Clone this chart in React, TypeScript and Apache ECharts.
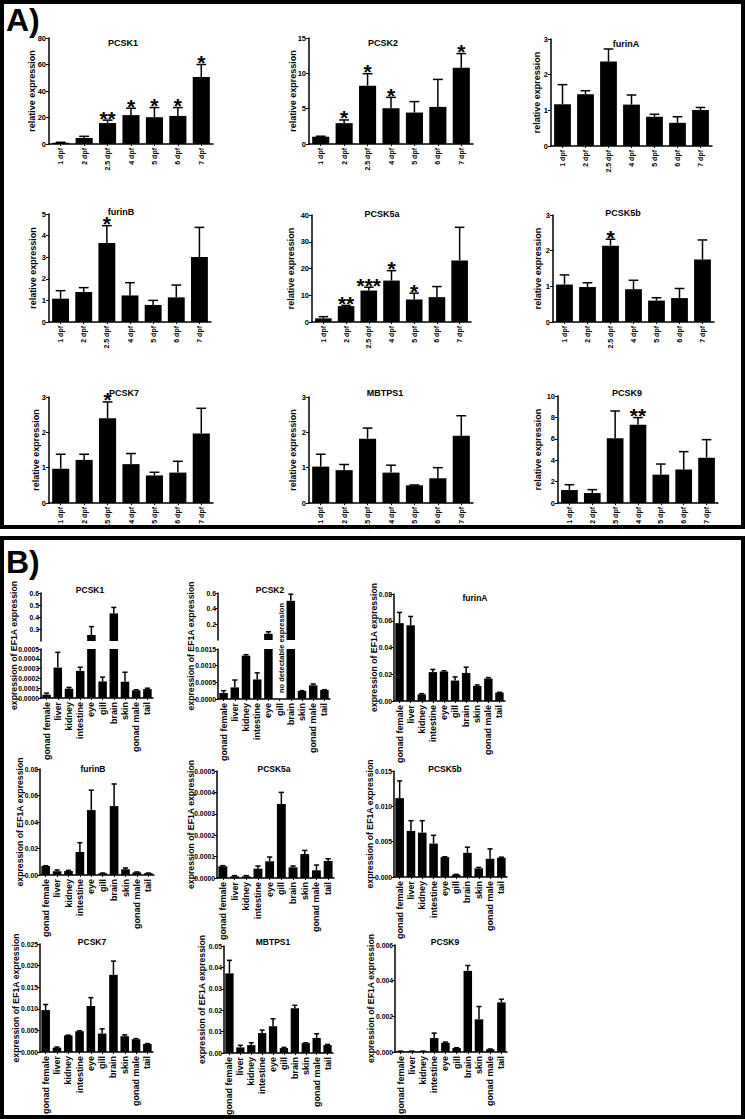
import React, { useEffect, useRef } from 'react';
import * as echarts from 'echarts';

// ---------- categories ----------
const dpf = ['1 dpf', '2 dpf', '2.5 dpf', '4 dpf', '5 dpf', '6 dpf', '7 dpf'];
const tissues = ['gonad female', 'liver', 'kidney', 'intestine', 'eye', 'gill', 'brain', 'skin', 'gonad male', 'tail'];

// ---------- Panel A: relative expression (mean, mean+SEM, significance) ----------
const aPCSK1 = [1.0, 4.5, 15.8, 21.8, 20.2, 21.2, 50.5];
const aPCSK1Err = [1.3, 5.8, 18.0, 27.0, 27.5, 27.5, 60.0];
const aPCSK1Sig = ['', '', '**', '*', '*', '*', '*'];

const aPCSK2 = [1.03, 2.95, 8.25, 5.06, 4.45, 5.25, 10.78];
const aPCSK2Err = [1.1, 3.4, 9.95, 6.6, 6.0, 9.14, 12.8];
const aPCSK2Sig = ['', '*', '*', '*', '', '', '*'];

const aFurinA = [1.17, 1.45, 2.37, 1.16, 0.82, 0.65, 1.01];
const aFurinAErr = [1.72, 1.55, 2.72, 1.43, 0.89, 0.82, 1.08];
const aFurinASig = ['', '', '', '', '', '', ''];

const aFurinB = [1.08, 1.39, 3.66, 1.23, 0.79, 1.14, 3.01];
const aFurinBErr = [1.45, 1.59, 4.46, 1.82, 1.0, 1.71, 4.38];
const aFurinBSig = ['', '', '*', '', '', '', ''];

const aPCSK5a = [1.36, 5.94, 11.76, 15.48, 8.42, 9.29, 23.03];
const aPCSK5aErr = [2.0, 6.2, 13.0, 19.2, 10.77, 13.25, 35.4];
const aPCSK5aSig = ['', '**', '***', '*', '*', '', ''];

const aPCSK5b = [1.05, 0.98, 2.14, 0.92, 0.6, 0.67, 1.75];
const aPCSK5bErr = [1.32, 1.1, 2.32, 1.17, 0.68, 0.94, 2.3];
const aPCSK5bSig = ['', '', '*', '', '', '', ''];

const aPCSK7 = [0.97, 1.22, 2.4, 1.1, 0.78, 0.86, 1.97];
const aPCSK7Err = [1.38, 1.38, 2.86, 1.4, 0.87, 1.18, 2.68];
const aPCSK7Sig = ['', '', '*', '', '', '', ''];

const aMBTPS1 = [1.03, 0.93, 1.82, 0.86, 0.5, 0.7, 1.9];
const aMBTPS1Err = [1.38, 1.09, 2.12, 1.07, 0.51, 1.0, 2.47];
const aMBTPS1Sig = ['', '', '', '', '', '', ''];

const aPCSK9 = [1.21, 0.93, 6.04, 7.32, 2.65, 3.12, 4.24];
const aPCSK9Err = [1.71, 1.25, 8.6, 7.98, 3.64, 4.8, 5.92];
const aPCSK9Sig = ['', '', '', '**', '', '', ''];

// ---------- Panel B: expression of EF1A expression ----------
const bPCSK1 = [0.000034, 0.00031, 0.000095, 0.000277, 0.25, 0.000169, 0.43, 0.000166, 0.000078, 0.000091];
const bPCSK1Err = [0.00005, 0.000466, 0.000108, 0.000314, 0.32, 0.000213, 0.48, 0.000263, 0.000084, 0.0001];

const bPCSK2 = [0.000179, 0.000348, 0.0013, 0.000586, 0.08, null, 0.5, 0.00024, 0.00041, 0.00027];
const bPCSK2Err = [0.00025, 0.00057, 0.00133, 0.000785, 0.105, null, 0.585, 0.00025, 0.00045, 0.00028];

const bFurinA = [0.0582, 0.0566, 0.005, 0.0216, 0.022, 0.0153, 0.021, 0.0113, 0.0168, 0.0063];
const bFurinAErr = [0.0662, 0.0632, 0.0055, 0.0236, 0.0226, 0.018, 0.0253, 0.012, 0.0175, 0.0065];

const bFurinB = [0.0068, 0.0028, 0.003, 0.0174, 0.049, 0.0013, 0.052, 0.0043, 0.002, 0.0013];
const bFurinBErr = [0.007, 0.0038, 0.0035, 0.0244, 0.064, 0.0015, 0.0687, 0.0053, 0.0023, 0.0015];

const bPCSK5a = [0.0000545, 0.0000078, 0.0000078, 0.0000436, 0.0000779, 0.000346, 0.0000498, 0.000112, 0.0000358, 0.0000794];
const bPCSK5aErr = [0.0000576, 0.000011, 0.000011, 0.000056, 0.000098, 0.0004, 0.000056, 0.000129, 0.0000607, 0.00009];

const bPCSK5b = [0.01116, 0.00652, 0.00628, 0.00473, 0.00281, 0.00033, 0.00342, 0.00122, 0.00258, 0.00272];
const bPCSK5bErr = [0.0136, 0.00797, 0.00797, 0.0059, 0.00286, 0.00038, 0.00422, 0.00136, 0.00398, 0.00281];

const bPCSK7 = [0.0097, 0.001, 0.0038, 0.0048, 0.01064, 0.00427, 0.01786, 0.00365, 0.00295, 0.00186];
const bPCSK7Err = [0.011, 0.00116, 0.0039, 0.0049, 0.01258, 0.00536, 0.02104, 0.00396, 0.0031, 0.00194];

const bMBTPS1 = [0.0372, 0.0026, 0.0037, 0.0093, 0.0125, 0.0023, 0.0209, 0.0046, 0.007, 0.0037];
const bMBTPS1Err = [0.0433, 0.0036, 0.0048, 0.0107, 0.016, 0.0026, 0.0223, 0.0048, 0.009, 0.004];

const bPCSK9 = [0.00004, 0.00004, 0.00004, 0.00078, 0.00052, 0.00022, 0.00455, 0.00183, 0.00015, 0.00278];
const bPCSK9Err = [0.00005, 0.00005, 0.00005, 0.00106, 0.00056, 0.00024, 0.00485, 0.00255, 0.00017, 0.00296];

const noSig10 = ['', '', '', '', '', '', '', '', '', ''];

// ---------- chart definitions (data references + axis scales) ----------
type Scale = { min: number; max: number; interval: number; dec: number };
type Def = { title: string; cats: string[]; vals: (number | null)[]; errs: (number | null)[]; sig: string[]; scales: Scale[]; panel: 'A' | 'B' };

const defs: Def[] = [
  { title: 'PCSK1', cats: dpf, vals: aPCSK1, errs: aPCSK1Err, sig: aPCSK1Sig, scales: [{ min: 0, max: 80, interval: 20, dec: 0 }], panel: 'A' },
  { title: 'PCSK2', cats: dpf, vals: aPCSK2, errs: aPCSK2Err, sig: aPCSK2Sig, scales: [{ min: 0, max: 15, interval: 5, dec: 0 }], panel: 'A' },
  { title: 'furinA', cats: dpf, vals: aFurinA, errs: aFurinAErr, sig: aFurinASig, scales: [{ min: 0, max: 3, interval: 1, dec: 0 }], panel: 'A' },
  { title: 'furinB', cats: dpf, vals: aFurinB, errs: aFurinBErr, sig: aFurinBSig, scales: [{ min: 0, max: 5, interval: 1, dec: 0 }], panel: 'A' },
  { title: 'PCSK5a', cats: dpf, vals: aPCSK5a, errs: aPCSK5aErr, sig: aPCSK5aSig, scales: [{ min: 0, max: 40, interval: 10, dec: 0 }], panel: 'A' },
  { title: 'PCSK5b', cats: dpf, vals: aPCSK5b, errs: aPCSK5bErr, sig: aPCSK5bSig, scales: [{ min: 0, max: 3, interval: 1, dec: 0 }], panel: 'A' },
  { title: 'PCSK7', cats: dpf, vals: aPCSK7, errs: aPCSK7Err, sig: aPCSK7Sig, scales: [{ min: 0, max: 3, interval: 1, dec: 0 }], panel: 'A' },
  { title: 'MBTPS1', cats: dpf, vals: aMBTPS1, errs: aMBTPS1Err, sig: aMBTPS1Sig, scales: [{ min: 0, max: 3, interval: 1, dec: 0 }], panel: 'A' },
  { title: 'PCSK9', cats: dpf, vals: aPCSK9, errs: aPCSK9Err, sig: aPCSK9Sig, scales: [{ min: 0, max: 10, interval: 2, dec: 0 }], panel: 'A' },
  { title: 'PCSK1', cats: tissues, vals: bPCSK1, errs: bPCSK1Err, sig: noSig10, scales: [{ min: 0.2, max: 0.6, interval: 0.1, dec: 1 }, { min: 0, max: 0.0005, interval: 0.0001, dec: 4 }], panel: 'B' },
  { title: 'PCSK2', cats: tissues, vals: bPCSK2, errs: bPCSK2Err, sig: noSig10, scales: [{ min: 0, max: 0.6, interval: 0.2, dec: 1 }, { min: 0, max: 0.0015, interval: 0.0005, dec: 4 }], panel: 'B' },
  { title: 'furinA', cats: tissues, vals: bFurinA, errs: bFurinAErr, sig: noSig10, scales: [{ min: 0, max: 0.08, interval: 0.02, dec: 2 }], panel: 'B' },
  { title: 'furinB', cats: tissues, vals: bFurinB, errs: bFurinBErr, sig: noSig10, scales: [{ min: 0, max: 0.08, interval: 0.02, dec: 2 }], panel: 'B' },
  { title: 'PCSK5a', cats: tissues, vals: bPCSK5a, errs: bPCSK5aErr, sig: noSig10, scales: [{ min: 0, max: 0.0005, interval: 0.0001, dec: 4 }], panel: 'B' },
  { title: 'PCSK5b', cats: tissues, vals: bPCSK5b, errs: bPCSK5bErr, sig: noSig10, scales: [{ min: 0, max: 0.015, interval: 0.005, dec: 3 }], panel: 'B' },
  { title: 'PCSK7', cats: tissues, vals: bPCSK7, errs: bPCSK7Err, sig: noSig10, scales: [{ min: 0, max: 0.025, interval: 0.005, dec: 3 }], panel: 'B' },
  { title: 'MBTPS1', cats: tissues, vals: bMBTPS1, errs: bMBTPS1Err, sig: noSig10, scales: [{ min: 0, max: 0.05, interval: 0.01, dec: 2 }], panel: 'B' },
  { title: 'PCSK9', cats: tissues, vals: bPCSK9, errs: bPCSK9Err, sig: noSig10, scales: [{ min: 0, max: 0.006, interval: 0.002, dec: 3 }], panel: 'B' },
];

// ---------- layout (pixel positions) ----------
// ax: y-axis x; segs: [top,bottom] of each axis segment; right: x-axis end; tx,ty: title; lx: y-label x
const layout = [
  { ax: 49, segs: [[38, 144]], right: 213, tx: 123, ty: 43, lx: 32 },
  { ax: 309, segs: [[38, 144]], right: 473, tx: 383, ty: 43, lx: 293 },
  { ax: 551, segs: [[39, 146]], right: 712, tx: 626, ty: 44, lx: 537 },
  { ax: 49, segs: [[214, 322]], right: 211, tx: 121, ty: 212, lx: 33 },
  { ax: 312, segs: [[215, 322]], right: 471, tx: 382, ty: 214, lx: 291 },
  { ax: 553, segs: [[215, 322]], right: 714, tx: 623, ty: 213, lx: 538 },
  { ax: 49, segs: [[397, 503]], right: 213, tx: 124, ty: 393, lx: 36 },
  { ax: 309, segs: [[397, 503]], right: 473, tx: 385, ty: 393, lx: 293 },
  { ax: 558, segs: [[396, 503]], right: 718, tx: 627, ty: 393, lx: 538 },
  { ax: 41, segs: [[593, 641], [649, 698]], right: 153, tx: 90, ty: 590, lx: 14 },
  { ax: 218, segs: [[593, 640], [649, 699]], right: 330, tx: 270, ty: 590, lx: 191 },
  { ax: 394, segs: [[594, 701]], right: 505, tx: 475, ty: 598, lx: 374 },
  { ax: 40, segs: [[769, 875]], right: 154, tx: 93, ty: 769, lx: 20 },
  { ax: 217, segs: [[771, 878]], right: 334, tx: 274, ty: 769, lx: 191 },
  { ax: 394, segs: [[771, 877]], right: 507, tx: 445, ty: 769, lx: 370 },
  { ax: 40, segs: [[944, 1052]], right: 153, tx: 92, ty: 942, lx: 16 },
  { ax: 224, segs: [[946, 1053]], right: 333, tx: 273, ty: 942, lx: 202 },
  { ax: 395, segs: [[945, 1052]], right: 507, tx: 445, ty: 942, lx: 371 },
];

const FONT_A = '"Liberation Sans", Arial, sans-serif';
const FONT_B = '"Liberation Sans Narrow", "Arial Narrow", "Liberation Sans", sans-serif';
const BLACK = '#000';

function txt(text: string, x: number, y: number, size: number, font: string, rot = 0, align = 'center') {
  return {
    type: 'text', x, y, rotation: rot, silent: true,
    style: {
      text, fill: BLACK, fontSize: size, fontWeight: 'bold', fontFamily: font,
      align, verticalAlign: 'middle', textAlign: align, textVerticalAlign: 'middle',
    },
  };
}

function buildOption() {
  const grid: any[] = [];
  const xAxis: any[] = [];
  const yAxis: any[] = [];
  const series: any[] = [];
  const graphic: any[] = [];

  graphic.push({ type: 'rect', shape: { x: 2, y: 2, width: 741, height: 525 }, style: { fill: 'none', stroke: BLACK, lineWidth: 4 }, silent: true });
  graphic.push({ type: 'rect', shape: { x: 2, y: 538, width: 741, height: 579 }, style: { fill: 'none', stroke: BLACK, lineWidth: 4 }, silent: true });
  graphic.push(txt('A)', 6, 20, 32, FONT_A, 0, 'left'));
  graphic.push(txt('B)', 6, 562, 32, FONT_A, 0, 'left'));

  defs.forEach((d, ci) => {
    const L = layout[ci];
    const isA = d.panel === 'A';
    const font = isA ? FONT_A : FONT_B;
    const tickFont = isA ? 7.5 : 6.8;
    const catFont = isA ? 7 : 9;
    graphic.push(txt(d.title, L.tx, L.ty, isA ? 9 : 8.5, font));
    const yTop = L.segs[0][0];
    const yBot = L.segs[L.segs.length - 1][1];
    graphic.push(txt(isA ? 'relative expression' : 'expression of EF1A expression', L.lx, (yTop + yBot) / 2, isA ? 9 : 8.7, font, Math.PI / 2));

    d.scales.forEach((sc, k) => {
      const gi = grid.length;
      const last = k === d.scales.length - 1;
      const seg = L.segs[k];
      const nextMax = last ? -Infinity : d.scales[k + 1].max;
      grid.push({ left: L.ax, top: seg[0], width: L.right - L.ax, height: seg[1] - seg[0], outerBoundsMode: 'none', containLabel: false });
      xAxis.push({
        type: 'category', gridIndex: gi, data: d.cats, show: last,
        axisLine: { show: true, lineStyle: { color: BLACK, width: 1.5 } },
        axisTick: { show: true, alignWithLabel: true, length: 2, lineStyle: { color: BLACK, width: 1 } },
        axisLabel: { rotate: 90, interval: 0, margin: 4, color: BLACK, fontSize: catFont, fontWeight: 'bold', fontFamily: font },
        splitLine: { show: false },
      });
      yAxis.push({
        type: 'value', gridIndex: gi, min: sc.min, max: sc.max, interval: sc.interval,
        axisLine: { show: true, lineStyle: { color: BLACK, width: 1.5 } },
        axisTick: { show: true, length: 3, lineStyle: { color: BLACK, width: 1 } },
        axisLabel: {
          margin: isA ? 3 : 2, color: BLACK, fontSize: tickFont, fontWeight: 'bold', fontFamily: font,
          showMinLabel: last, showMaxLabel: true,
          formatter: (v: number) => v.toFixed(sc.dec),
        },
        splitLine: { show: false },
      });
      const inSeg = (v: number | null) => v != null && v > nextMax;
      series.push({
        type: 'bar', xAxisIndex: gi, yAxisIndex: gi, barCategoryGap: isA ? '27%' : '24%',
        data: d.vals.map((v) => (inSeg(v) ? v : null)),
        itemStyle: { color: BLACK }, clip: true, silent: true,
      });
      const errData: any[] = [];
      d.vals.forEach((v, i) => {
        const e = d.errs[i];
        if (inSeg(v) && e != null && e <= sc.max) errData.push([i, v, e]);
      });
      const sig = d.sig;
      series.push({
        type: 'custom', xAxisIndex: gi, yAxisIndex: gi, z: 3, silent: true,
        data: errData,
        renderItem: (params: any, api: any) => {
          const i = api.value(0);
          const v = api.value(1);
          const e = api.value(2);
          const pb = api.coord([i, v]);
          const pt = api.coord([i, e]);
          const band = api.size([1, 0])[0];
          const cap = band * (isA ? 0.42 : 0.45);
          const children: any[] = [
            { type: 'line', shape: { x1: pt[0], y1: pb[1], x2: pt[0], y2: pt[1] }, style: { stroke: BLACK, lineWidth: 1.5 } },
            { type: 'line', shape: { x1: pt[0] - cap / 2, y1: pt[1], x2: pt[0] + cap / 2, y2: pt[1] }, style: { stroke: BLACK, lineWidth: 1.5 } },
          ];
          const s = sig[i];
          if (s) {
            children.push({
              type: 'text', x: pt[0], y: pt[1] - 2,
              style: {
                text: s, fill: BLACK, fontSize: 21, fontWeight: 'bold', fontFamily: FONT_A,
                align: 'center', verticalAlign: 'middle', textAlign: 'center', textVerticalAlign: 'middle',
              },
            });
          }
          return { type: 'group', children };
        },
      });
    });
  });

  // annotation for the PCSK2 gill column in panel B
  graphic.push(txt('no detectable expression', 281, 648, 7.5, FONT_B, Math.PI / 2));

  return { animation: false, backgroundColor: '#fff', grid, xAxis, yAxis, series, graphic };
}

export default function App() {
  const ref = useRef<HTMLDivElement>(null);
  useEffect(() => {
    const chart = echarts.init(ref.current as HTMLDivElement, null, { renderer: 'svg' });
    chart.setOption(buildOption() as any);
    return () => chart.dispose();
  }, []);
  return <div ref={ref} style={{ position: 'absolute', left: 0, top: 0, width: 745, height: 1119, background: '#fff' }} />;
}
